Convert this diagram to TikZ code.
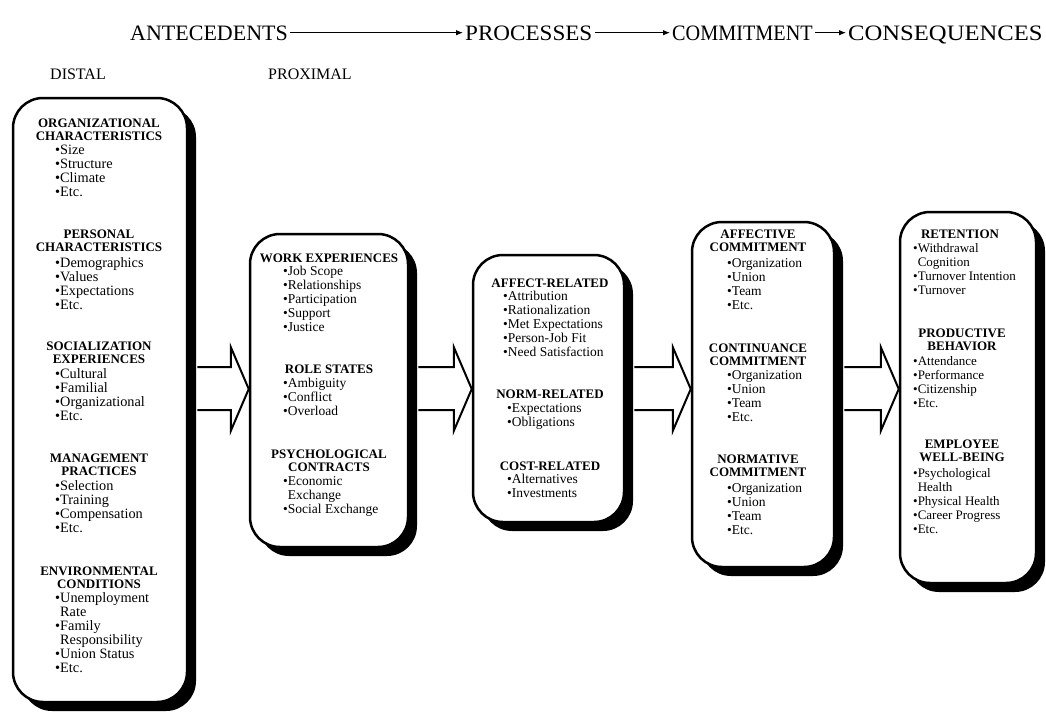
\documentclass[tikz,border=0pt]{standalone}
\usepackage{fontspec}
\setmainfont{Liberation Serif}
\usetikzlibrary{shadows,calc,arrows.meta}
\newcommand\bul{\textbullet}
\newcommand\ind{\hphantom{\textbullet}}
\newcommand\hdt[1]{\begin{tabular}[t]{@{}c@{}}#1\end{tabular}}
\newcommand\itt[1]{\begin{tabular}[t]{@{}l@{}}#1\end{tabular}}
\newcommand\blockarrow[2]{\draw[barr] let \p1=(#1.east), \p2=(#2.west) in
  (\x1+9pt,-367pt) -- (\x2-18pt,-367pt) -- (\x2-18pt,-347pt) -- (\x2,-389pt)
  -- (\x2-18pt,-431pt) -- (\x2-18pt,-410pt) -- (\x1+9pt,-410pt);}
\begin{document}
\begin{tikzpicture}[x=1pt,y=-1pt,
  box/.style={draw=black, line width=2.5pt, fill=white, rounded corners=30pt,
    general shadow={fill=black, shadow xshift=9pt, shadow yshift=-9pt}},
  barr/.style={draw=black, line width=2pt, fill=white, line join=miter},
  hdr/.style={inner sep=0pt, font=\fontsize{22}{24}\selectfont, text height=14.6pt, text depth=0pt, anchor=base west},
  harr/.style={line width=1pt, -{Latex[length=7pt,width=5.5pt]}, shorten <=2pt, shorten >=2pt},
  sub/.style={inner sep=0pt, font=\fontsize{16}{18}\selectfont, anchor=base west},
  hd/.style={anchor=base, inner sep=0pt, font=\fontsize{13}{13.5}\selectfont\bfseries},
  it/.style={anchor=base west, inner sep=0pt, font=\fontsize{13.5}{14}\selectfont},
  itb/.style={anchor=base west, inner sep=0pt, font=\fontsize{14.3}{14}\selectfont},
  itf/.style={anchor=base west, inner sep=0pt, font=\fontsize{13}{14}\selectfont}
]
\useasboundingbox (0,0) rectangle (1046,715);

% header
\node[hdr] (ante) at (130,40) {ANTECEDENTS};
\node[hdr] (proc) at (465,40) {\scalebox{1.05}[1]{PROCESSES}};
\node[hdr] (comm) at (672,40) {\scalebox{0.92}[1]{COMMITMENT}};
\node[hdr] (cons) at (848,40) {\scalebox{1.12}[1]{CONSEQUENCES}};
\draw[harr] (ante.east) -- (proc.west);
\draw[harr] (proc.east) -- (comm.west);
\draw[harr] (comm.east) -- (cons.west);
\node[sub] (distal) at (50,79) {DISTAL};
\node[sub] (proximal) at (268,79) {PROXIMAL};

% boxes
\node[box, minimum width=174pt, minimum height=604pt] (b1) at (100,400) {};
\node[box, minimum width=158pt, minimum height=313pt] (b2) at (329,390.5) {};
\node[box, minimum width=151pt, minimum height=267pt] (b3) at (548.5,388.5) {};
\node[box, minimum width=142pt, minimum height=345pt] (b4) at (763,394.5) {};
\node[box, minimum width=136pt, minimum height=371pt] (b5) at (968,397.5) {};

% block arrows
\blockarrow{b1}{b2}
\blockarrow{b2}{b3}
\blockarrow{b3}{b4}
\blockarrow{b4}{b5}

% box 1
\node[hd] (b1h1) at (99,127) {\hdt{ORGANIZATIONAL\\CHARACTERISTICS}};
\node[itb] (b1i1) at (55,154) {\itt{\bul Size\\\bul Structure\\\bul Climate\\\bul Etc.}};
\node[hd] (b1h2) at (99,238) {\hdt{PERSONAL\\CHARACTERISTICS}};
\node[itb] (b1i2) at (55,267) {\itt{\bul Demographics\\\bul Values\\\bul Expectations\\\bul Etc.}};
\node[hd] (b1h3) at (99,350) {\hdt{SOCIALIZATION\\EXPERIENCES}};
\node[itb] (b1i3) at (55,378) {\itt{\bul Cultural\\\bul Familial\\\bul Organizational\\\bul Etc.}};
\node[hd] (b1h4) at (99,462) {\hdt{MANAGEMENT\\PRACTICES}};
\node[itb] (b1i4) at (55,490) {\itt{\bul Selection\\\bul Training\\\bul Compensation\\\bul Etc.}};
\node[hd] (b1h5) at (99,575) {\hdt{ENVIRONMENTAL\\CONDITIONS}};
\node[itb] (b1i5) at (55,602) {\itt{\bul Unemployment\\\ind Rate\\\bul Family\\\ind Responsibility\\\bul Union Status\\\bul Etc.}};

% box 2
\node[hd] (b2h1) at (329,262) {\hdt{WORK EXPERIENCES}};
\node[it] (b2i1) at (283,275) {\itt{\bul Job Scope\\\bul Relationships\\\bul Participation\\\bul Support\\\bul Justice}};
\node[hd] (b2h2) at (329,373) {\hdt{ROLE STATES}};
\node[it] (b2i2) at (283,387) {\itt{\bul Ambiguity\\\bul Conflict\\\bul Overload}};
\node[hd] (b2h3) at (329,458) {\hdt{PSYCHOLOGICAL\\CONTRACTS}};
\node[it] (b2i3) at (283,485) {\itt{\bul Economic\\\ind Exchange\\\bul Social Exchange}};

% box 3
\node[hd] (b3h1) at (550,287) {\hdt{AFFECT-RELATED}};
\node[it] (b3i1) at (503,300) {\itt{\bul Attribution\\\bul Rationalization\\\bul Met Expectations\\\bul Person-Job Fit\\\bul Need Satisfaction}};
\node[hd] (b3h2) at (550,398) {\hdt{NORM-RELATED}};
\node[it] (b3i2) at (507,412) {\itt{\bul Expectations\\\bul Obligations}};
\node[hd] (b3h3) at (550,470) {\hdt{COST-RELATED}};
\node[it] (b3i3) at (507,483) {\itt{\bul Alternatives\\\bul Investments}};

% box 4
\node[hd] (b4h1) at (758,238) {\hdt{AFFECTIVE\\COMMITMENT}};
\node[it] (b4i1) at (727,267) {\itt{\bul Organization\\\bul Union\\\bul Team\\\bul Etc.}};
\node[hd] (b4h2) at (758,352) {\hdt{CONTINUANCE\\COMMITMENT}};
\node[it] (b4i2) at (727,379) {\itt{\bul Organization\\\bul Union\\\bul Team\\\bul Etc.}};
\node[hd] (b4h3) at (758,463) {\hdt{NORMATIVE\\COMMITMENT}};
\node[it] (b4i3) at (727,492) {\itt{\bul Organization\\\bul Union\\\bul Team\\\bul Etc.}};

% box 5
\node[hd] (b5h1) at (960,238) {\hdt{RETENTION}};
\node[itf] (b5i1) at (913,252) {\itt{\bul Withdrawal\\\ind Cognition\\\bul Turnover Intention\\\bul Turnover}};
\node[hd] (b5h2) at (962,337) {\hdt{PRODUCTIVE\\BEHAVIOR}};
\node[itf] (b5i2) at (913,365) {\itt{\bul Attendance\\\bul Performance\\\bul Citizenship\\\bul Etc.}};
\node[hd] (b5h3) at (962,448) {\hdt{EMPLOYEE\\WELL-BEING}};
\node[itf] (b5i3) at (913,477) {\itt{\bul Psychological\\\ind Health\\\bul Physical Health\\\bul Career Progress\\\bul Etc.}};
\end{tikzpicture}
\end{document}
